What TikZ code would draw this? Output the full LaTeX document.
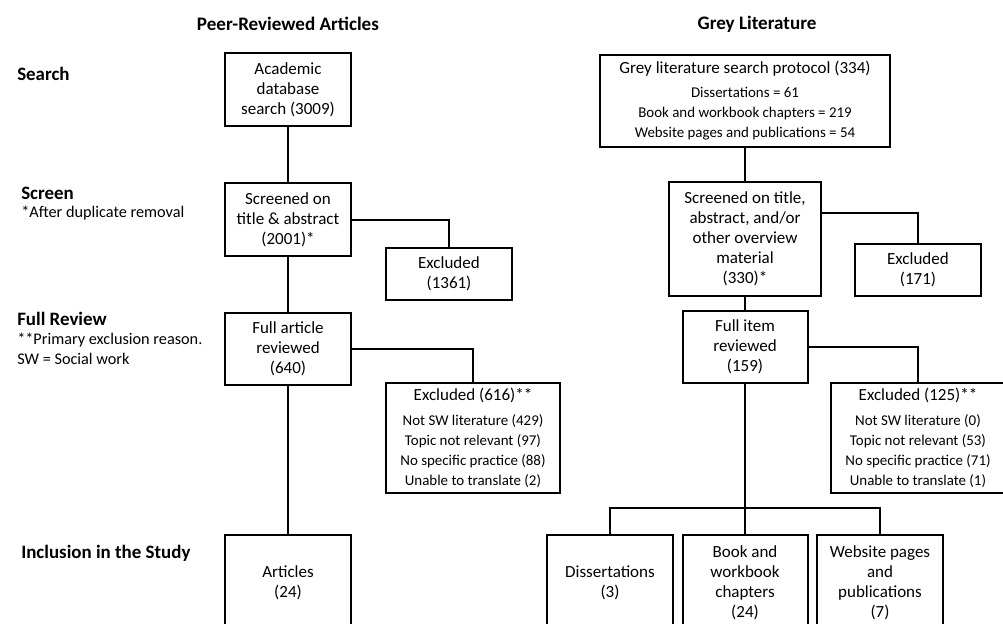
\documentclass[tikz,border=0pt]{standalone}
\usepackage{fontspec}
\setmainfont{Carlito}
\begin{document}
\begin{tikzpicture}[x=0.75pt,y=-0.75pt,
  box/.style={draw, line width=1.5pt, inner sep=0pt, align=center, font=\fontsize{12.75}{15}\selectfont},
  head/.style={font=\fontsize{14.3}{16}\selectfont\bfseries},
  stage/.style={anchor=west, inner sep=0pt, font=\fontsize{14.2}{16}\selectfont\bfseries},
  note/.style={anchor=west, inner sep=0pt, font=\fontsize{12.2}{14}\selectfont},
  link/.style={line width=1.5pt}]
\newcommand{\smalltxt}{\fontsize{11.2}{13.5}\selectfont}
\clip (0,0) rectangle (1003,624);
\fill[white] (0,0) rectangle (1003,624);

% headings
\node[head] (hpeer) at (288,24) {Peer-Reviewed Articles};
\node[head] (hgrey) at (757,24) {Grey Literature};

% stage labels
\node[stage] (lsearch) at (17,74) {Search};
\node[stage] (lscreen) at (21,193) {Screen};
\node[note] (nscreen) at (21,213) {*After duplicate removal};
\node[stage] (lfull) at (17,319) {Full Review};
\node[note] (nfull1) at (17,340) {**Primary exclusion reason.};
\node[note] (nfull2) at (17,359) {SW = Social work};
\node[stage] (lincl) at (21,553) {Inclusion in the Study};

% peer-reviewed column
\node[box, minimum width=126*0.75pt, minimum height=73*0.75pt] (acad) at (288,89.5) {Academic\\database\\search (3009)};
\node[box, minimum width=126*0.75pt, minimum height=73*0.75pt] (scr) at (288,219.5) {Screened on\\title \& abstract\\(2001)*};
\node[box, minimum width=126*0.75pt, minimum height=52*0.75pt] (exc1) at (449,274) {Excluded\\(1361)};
\node[box, minimum width=126*0.75pt, minimum height=72*0.75pt] (full) at (288,349) {Full article\\reviewed\\(640)};
\node[box, minimum width=174*0.75pt, minimum height=110*0.75pt] (exc2) at (473,438) {Excluded (616)**\\[4pt]{\smalltxt Not SW literature (429)}\\{\smalltxt Topic not relevant (97)}\\{\smalltxt No specific practice (88)}\\{\smalltxt Unable to translate (2)}};
\node[box, minimum width=126*0.75pt, minimum height=95*0.75pt] (art) at (288,582.5) {Articles\\(24)};

% grey literature column
\node[box, minimum width=290*0.75pt, minimum height=92*0.75pt] (gprot) at (745,101) {Grey literature search protocol (334)\\[3pt]{\smalltxt Dissertations = 61}\\{\smalltxt Book and workbook chapters = 219}\\{\smalltxt Website pages and publications = 54}};
\node[box, minimum width=152*0.75pt, minimum height=114*0.75pt] (gscr) at (745,239) {Screened on title,\\abstract, and/or\\other overview\\material\\(330)*};
\node[box, minimum width=126*0.75pt, minimum height=52*0.75pt] (gexc1) at (918,270) {Excluded\\(171)};
\node[box, minimum width=125*0.75pt, minimum height=72*0.75pt] (gfull) at (745,347) {Full item\\reviewed\\(159)};
\node[box, minimum width=174*0.75pt, minimum height=110*0.75pt] (gexc2) at (918,438) {Excluded (125)**\\[4pt]{\smalltxt Not SW literature (0)}\\{\smalltxt Topic not relevant (53)}\\{\smalltxt No specific practice (71)}\\{\smalltxt Unable to translate (1)}};
\node[box, minimum width=126*0.75pt, minimum height=95*0.75pt] (diss) at (610,582.5) {Dissertations\\(3)};
\node[box, minimum width=125*0.75pt, minimum height=95*0.75pt] (book) at (745,582.5) {Book and\\workbook\\chapters\\(24)};
\node[box, minimum width=126*0.75pt, minimum height=95*0.75pt] (web) at (880,582.5) {Website pages\\and\\publications\\(7)};

% connectors
\draw[link] (acad.south) -- (scr.north);
\draw[link] (scr.east) -| (exc1.north);
\draw[link] (scr.south) -- (full.north);
\draw[link] (full.east) -| (exc2.north);
\draw[link] (full.south) -- (art.north);

\draw[link] (gprot.south) -- (gscr.north);
\draw[link] (gscr.north east) ++(0,32) -| (gexc1.north);
\draw[link] (gscr.south) -- (gfull.north);
\draw[link] (gfull.east) -| (gexc2.north);
\draw[link] (gfull.south) -- (book.north);
\draw[link] (diss.north) -- ++(0,-26) -| (web.north);
\end{tikzpicture}
\end{document}
